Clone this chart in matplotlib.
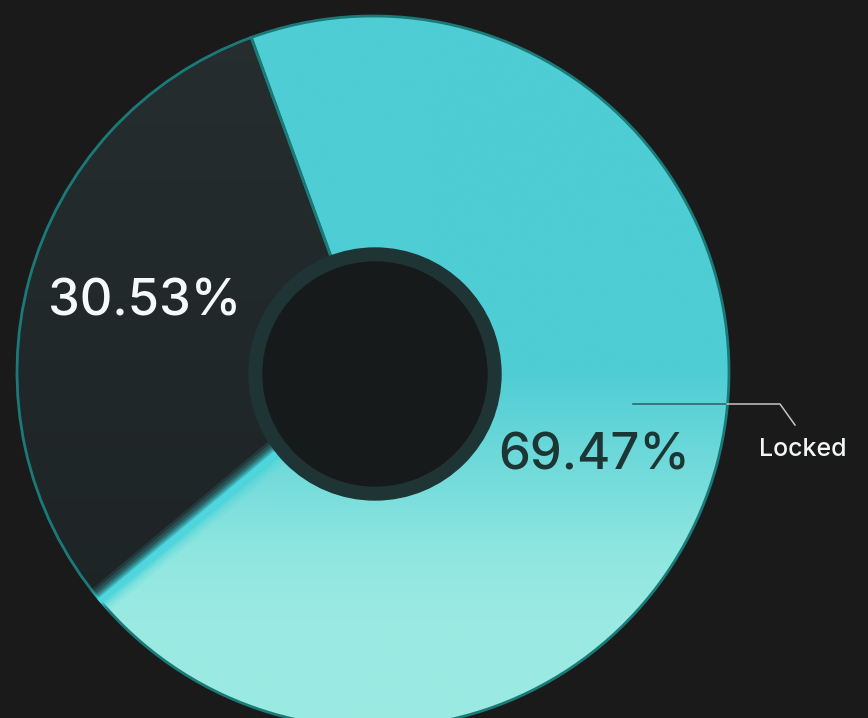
import numpy as np
import matplotlib
matplotlib.use("Agg")
import matplotlib.pyplot as plt
from matplotlib.colors import LinearSegmentedColormap
from matplotlib.patches import Circle

# ---- data ----
labels = ["Locked", "Unlocked"]
values = [69.47, 30.53]
pct_labels = ["69.47%", "30.53%"]

# ---- style ----
BG = "#1a1a1a"
W, H = 868, 718
CX, CY = 373, H - 372
R = 356
START = 110.0

plt.rcParams['font.family'] = ['Inter', 'DejaVu Sans']

fig = plt.figure(figsize=(8.68, 7.18), dpi=100, facecolor=BG)
ax = fig.add_axes([0, 0, 1, 1])
ax.set_facecolor(BG)

wedges, _ = ax.pie(values, startangle=START, counterclock=False, radius=R,
                   center=(CX, CY), colors=["#4ecdd4", "#232a2c"],
                   wedgeprops=dict(width=R - 120, edgecolor="#1a7a78", linewidth=2),
                   frame=True)
ax.set_xlim(0, W)
ax.set_ylim(0, H)
ax.set_aspect('equal')
ax.axis('off')

# gradient fills clipped to wedges
teal_cmap = LinearSegmentedColormap.from_list(
    "teal", [(0.0, "#4ecdd4"), (370 / H, "#4ecdd4"), (450 / H, "#6bd8d9"),
             (560 / H, "#91e7e0"), (620 / H, "#9aeae2"), (1.0, "#9aeae2")])
dark_cmap = LinearSegmentedColormap.from_list(
    "dark", [(0.0, "#262e30"), (0.5, "#212829"), (1.0, "#1d2325")])
grad = np.linspace(0, 1, 400).reshape(-1, 1)
for w, cmap in zip(wedges, [teal_cmap, dark_cmap]):
    im = ax.imshow(grad, cmap=cmap, extent=(0, W, 0, H), origin='upper',
                   aspect='auto', zorder=1.5, interpolation='bilinear')
    im.set_clip_path(w)
    w.set_facecolor('none')
    w.set_zorder(2)
ax.set_xlim(0, W)
ax.set_ylim(0, H)

# glowing boundary between slices
ang = np.deg2rad(START - 360 * values[0] / sum(values))
r0, r1 = 118, R + 1
xs = [CX + r0 * np.cos(ang), CX + r1 * np.cos(ang)]
ys = [CY + r0 * np.sin(ang), CY + r1 * np.sin(ang)]
for lw, a in [(20, 0.12), (16, 0.16), (12, 0.22), (9, 0.32), (6.5, 0.5)]:
    ax.plot(xs, ys, color="#45d3db", lw=lw, alpha=a, solid_capstyle='butt', zorder=3)
ax.plot(xs, ys, color="#4fd5dd", lw=4, solid_capstyle='butt', zorder=3.1)

# inner ring and hole
ax.add_patch(Circle((CX + 2, CY - 2), 126, color="#1f3535", zorder=4))
ax.add_patch(Circle((CX + 2, CY - 2), 112, color="#171a1b", zorder=4.1))

# percentage labels
ax.text(594, H - 456, pct_labels[0], color="#1e3536", fontsize=36.5, fontweight='medium',
        ha='center', va='center', zorder=5)
ax.text(145, H - 302, pct_labels[1], color="#f3faf9", fontsize=36.5, fontweight='medium',
        ha='center', va='center', zorder=5)

# leader line + label
ax.plot([633, 727], [H - 404, H - 404], color="#2f5f62", lw=1.1, zorder=5)
ax.plot([727, 780, 795], [H - 404, H - 404, H - 425], color="#c4c4c4", lw=1.1, zorder=5)
ax.text(803, H - 449, labels[0], color="#f3f6f5", fontsize=18, fontweight='medium',
        ha='center', va='center', zorder=5)

fig.savefig("out.png", dpi=100, facecolor=BG)
